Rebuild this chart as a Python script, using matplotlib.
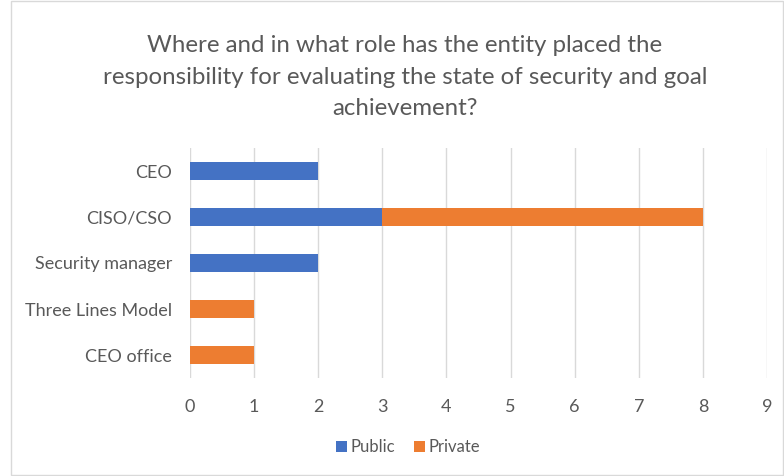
import matplotlib
matplotlib.use("Agg")
import matplotlib.pyplot as plt
from matplotlib.patches import Rectangle

categories = ["CEO", "CISO/CSO", "Security manager", "Three Lines Model", "CEO office"]
public = [2, 3, 2, 0, 0]
private = [0, 5, 0, 1, 1]
xticks = list(range(0, 10))

title = ("Where and in what role has the entity placed the\n"
         "responsibility for evaluating the state of security and goal\n"
         "achievement?")

plt.rcParams["font.family"] = ["Lato", "DejaVu Sans"]
text_col = "#595959"

fig = plt.figure(figsize=(7.84, 4.76), dpi=100)
ax = fig.add_axes([190 / 784, 1 - 378 / 476, 577 / 784, 230 / 476])

y = list(range(len(categories)))
ax.barh(y, public, height=0.4, color="#4472C4", label="Public", zorder=3)
ax.barh(y, private, left=public, height=0.4, color="#ED7D31", label="Private", zorder=3)

ax.set_xlim(0, 9)
ax.set_ylim(len(categories) - 0.5, -0.5)
ax.set_xticks(xticks)
ax.set_yticks(y)
ax.set_yticklabels(categories)
ax.grid(axis="x", color="#D9D9D9", linewidth=1, zorder=0)
for s in ax.spines.values():
    s.set_visible(False)
ax.tick_params(axis="both", length=0, labelsize=13, colors=text_col)
ax.tick_params(axis="x", pad=15)
ax.tick_params(axis="y", pad=13)

fig.text(405 / 784, 1 - 77 / 476, title, ha="center", va="center",
         fontsize=17.3, color=text_col, linespacing=1.6)

fig.legend(loc="center", bbox_to_anchor=(408 / 784, 1 - 447 / 476), ncol=2,
           frameon=False, fontsize=12, handlelength=0.65, handleheight=0.65,
           handletextpad=0.25, columnspacing=1.1, labelcolor=text_col)

fig.patches.append(Rectangle((11 / 784, 1 / 476), 772 / 784, 474 / 476,
                             transform=fig.transFigure, fill=False,
                             edgecolor="#D9D9D9", linewidth=1))

fig.savefig("out.png", dpi=100)
